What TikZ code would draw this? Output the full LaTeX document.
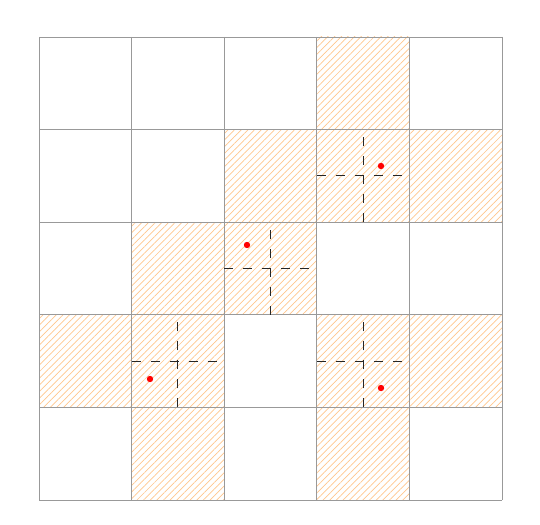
\documentclass[tikz,border=0pt]{standalone}
\usetikzlibrary{patterns.meta}
\begin{document}
\begin{tikzpicture}[x=1pt,y=-1pt,
  hatch/.style={pattern={Lines[angle=45,distance=4.7pt,line width=0.7pt]},pattern color=orange!45},
  gridline/.style={draw=black!40,line width=0.8pt},
  crossline/.style={draw=black!85,line width=0.9pt,dash pattern=on 9pt off 10pt},
  reddot/.style={fill=red}]
\useasboundingbox (0,0) rectangle (540,524);
\def\cs{92.6}
% hatched cells (col,row)
\foreach \c/\r in {3/0, 2/1, 3/1, 4/1, 1/2, 2/2, 0/3, 1/3, 3/3, 4/3, 1/4, 3/4}{
  \fill[hatch] ({39+\c*\cs},{37+\r*\cs}) rectangle ++(\cs,\cs);
}
% grid
\foreach \i in {0,...,5}{
  \draw[gridline] ({39+\i*\cs},37) -- ({39+\i*\cs},500);
  \draw[gridline] (39,{37+\i*\cs}) -- (502,{37+\i*\cs});
}
% dashed crosses
\foreach \c/\r in {3/1, 2/2, 1/3, 3/3}{
  \draw[crossline] ({39+\c*\cs},{37+\r*\cs+0.5*\cs}) -- ({39+\c*\cs+\cs},{37+\r*\cs+0.5*\cs});
  \draw[crossline] ({39+\c*\cs+0.5*\cs},{37+\r*\cs+\cs}) -- ({39+\c*\cs+0.5*\cs},{37+\r*\cs});
}
% red dots
\foreach \x/\y in {381/166, 247/245, 150/379, 381/388}{
  \fill[reddot] (\x,\y) circle (3.2);
}
\end{tikzpicture}
\end{document}
